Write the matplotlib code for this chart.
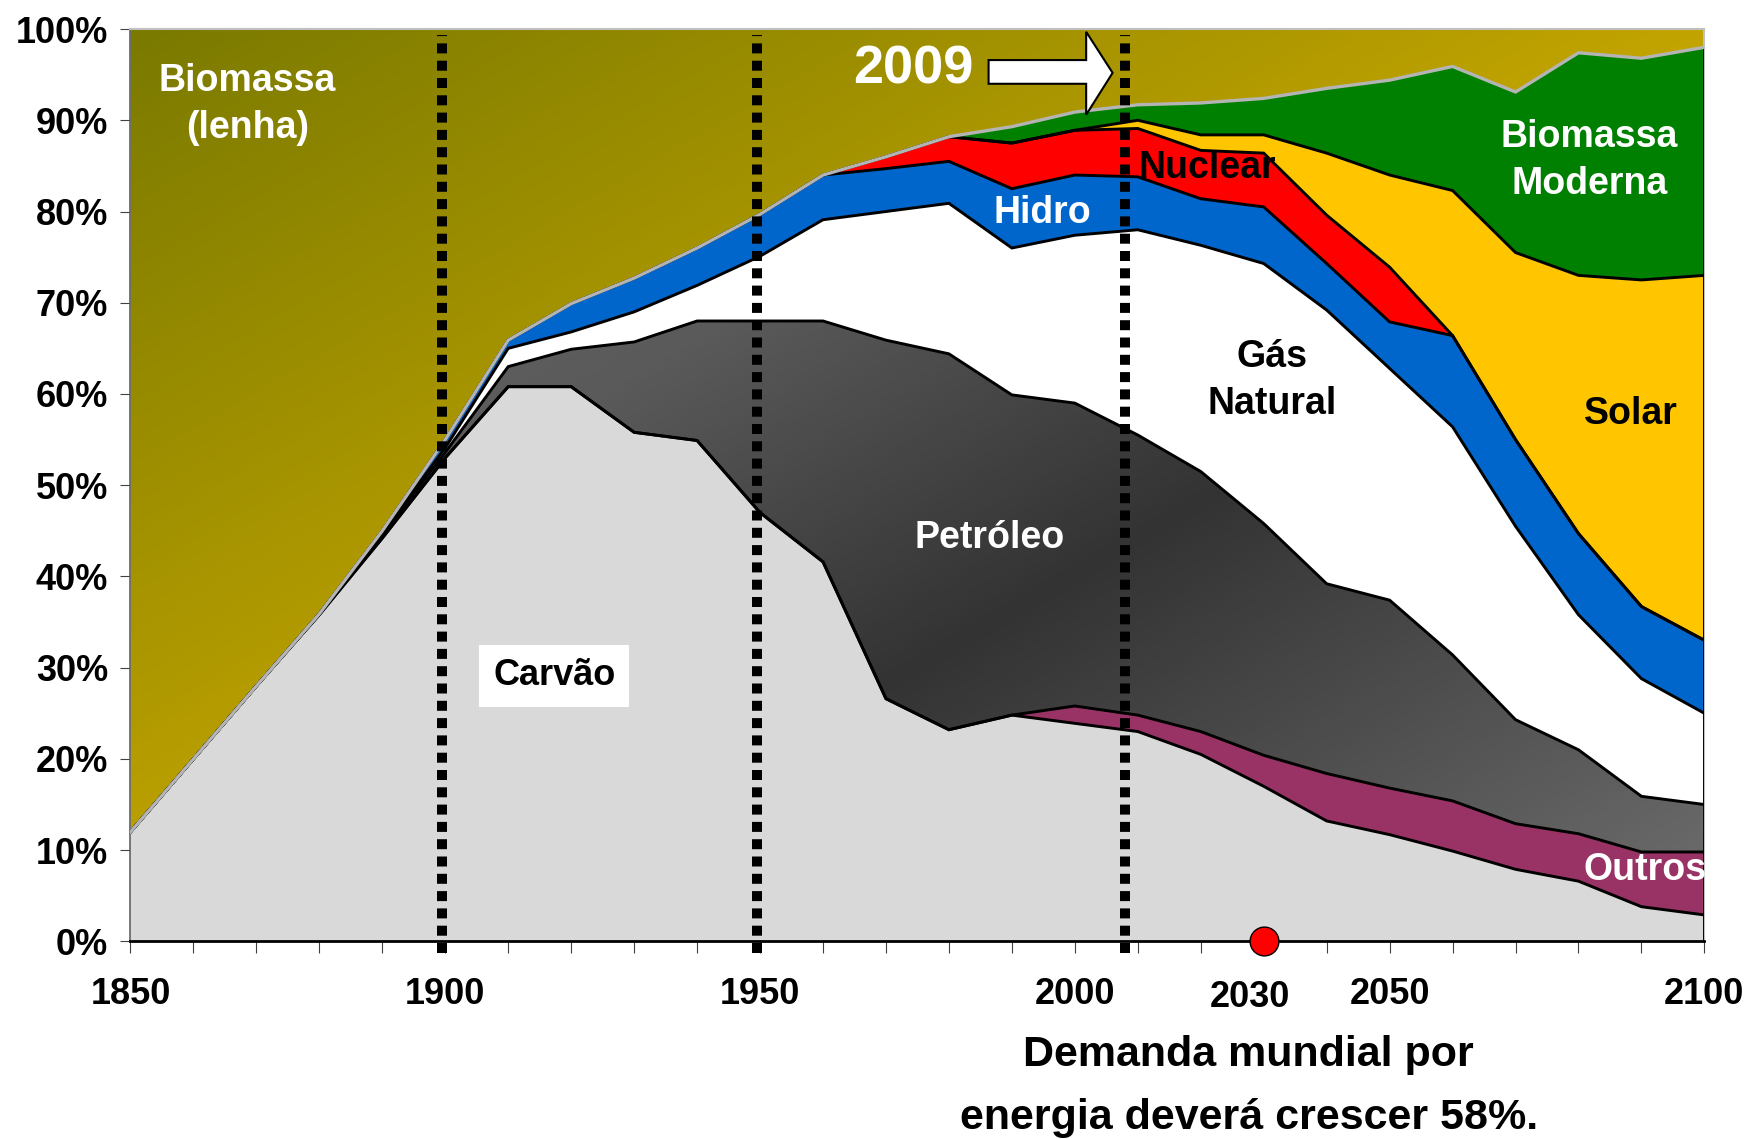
import numpy as np
import matplotlib
matplotlib.use('Agg')
import matplotlib.pyplot as plt
from matplotlib.colors import LinearSegmentedColormap
from matplotlib.patches import Polygon
from matplotlib.transforms import ScaledTranslation

plt.rcParams['font.family'] = ['Liberation Sans', 'DejaVu Sans']
plt.rcParams['font.weight'] = 'bold'

# participacao de cada fonte na matriz energetica mundial (%), de 10 em 10 anos
anos = [1850, 1860, 1870, 1880, 1890, 1900, 1910, 1920, 1930, 1940, 1950, 1960, 1970,
        1980, 1990, 2000, 2010, 2020, 2030, 2040, 2050, 2060, 2070, 2080, 2090, 2100]

carvao = [12.0, 20.0, 28.0, 35.8, 44.2, 53.0, 60.8, 60.8, 55.8, 54.9, 47.0, 41.6, 26.6,
          23.2, 24.8, 23.9, 23.0, 20.5, 17.0, 13.2, 11.7, 9.9, 7.9, 6.6, 3.8, 2.9]
outros = [0, 0, 0, 0, 0, 0, 0, 0, 0, 0, 0, 0, 0,
          0, 0, 1.9, 1.8, 2.5, 3.4, 5.2, 5.1, 5.5, 5.0, 5.2, 6.0, 6.9]
petroleo = [0, 0, 0, 0.1, 0.4, 0.6, 2.2, 4.1, 9.9, 13.1, 21.0, 26.4, 39.3,
            41.2, 35.1, 33.2, 30.7, 28.5, 25.4, 20.8, 20.6, 16.0, 11.4, 9.2, 6.1, 5.2]
gas = [0, 0, 0, 0, 0.2, 0.5, 2.0, 1.9, 3.3, 3.9, 7.1, 11.1, 14.1,
       16.5, 16.1, 18.4, 22.5, 24.8, 28.5, 30.0, 25.4, 25.0, 21.2, 14.8, 12.9, 10.0]
hidro = [0, 0, 0, 0, 0.2, 0.9, 0.9, 3.1, 3.7, 4.1, 4.6, 4.9, 4.7,
         4.6, 6.5, 6.6, 5.8, 5.1, 6.2, 5.1, 5.1, 10.0, 9.5, 8.9, 7.9, 8.0]
nuclear = [0, 0, 0, 0, 0, 0, 0, 0, 0, 0, 0, 0, 1.3,
           2.7, 5.0, 4.9, 5.3, 5.3, 5.9, 5.3, 6.0, 0, 0, 0, 0, 0]
solar = [0, 0, 0, 0, 0, 0, 0, 0, 0, 0, 0, 0, 0,
         0, 0, 0, 0.9, 1.7, 2.0, 6.8, 10.1, 15.9, 20.5, 28.3, 35.8, 40.0]
bio_moderna = [0, 0, 0, 0, 0, 0, 0, 0, 0, 0, 0, 0, 0,
               0, 1.8, 2.0, 1.7, 3.5, 4.0, 7.1, 10.4, 13.6, 17.6, 24.4, 24.3, 25.0]

camadas = [carvao, outros, petroleo, gas, hidro, nuclear, solar, bio_moderna]
cores = ['#d9d9d9', '#993366', None, '#ffffff', '#0066cc', '#ff0000', '#ffc600', '#008000']

marcos = [1899.5, 1949.5, 2008]          # linhas pontilhadas
ticks_x = [1850, 1900, 1950, 2000, 2030, 2050, 2100]
ano_ponto = 2030

fig = plt.figure(figsize=(17.49, 11.39), dpi=100)
ax = fig.add_axes([0.0746, 0.1735, 0.8999, 0.8010])

x = np.array(anos)
topo = np.cumsum(np.array(camadas, dtype=float), axis=0)
base = np.vstack([np.zeros(len(anos)), topo[:-1]])
total = topo[-1]

gx, gy = np.meshgrid(np.linspace(0, 1, 400), np.linspace(0, 1, 400))
diag = (gx + 1 - gy) / 2


def gradiente(y0, y1, lista_cores, z):
    area = ax.fill_between(x, y0, y1, facecolor='none', edgecolor='none', zorder=z)
    cmap = LinearSegmentedColormap.from_list('g', lista_cores)
    img = ax.imshow(diag, extent=[1850, 2100, 0, 100], origin='lower', cmap=cmap,
                    vmin=0, vmax=1, aspect='auto', zorder=z, interpolation='bilinear')
    img.set_clip_path(area.get_paths()[0], transform=ax.transData)


for i in range(len(camadas)):
    if cores[i] is None:
        gradiente(base[i], topo[i], [(0, '#707070'), (0.35, '#5a5a5a'),
                                     (0.6, '#333333'), (1.0, '#707070')], 1)
    else:
        ax.fill_between(x, base[i], topo[i], facecolor=cores[i], edgecolor='none', zorder=1)

# biomassa tradicional (lenha) = resto ate 100%
gradiente(total, np.full(len(anos), 100.0), [(0, '#7a7a00'), (0.5, '#c2a400'), (1, '#e2c400')], 1)

for i in range(len(camadas) - 1):
    ax.plot(x, topo[i], color='black', lw=2.1, zorder=3, solid_joinstyle='miter')
ax.plot(x, total, color='#b4b4b4', lw=2.4, zorder=3.5)
ax.plot([2100, 2100], [0, total[-1]], color='black', lw=2.1, zorder=3)

for m in marcos:
    ax.plot([m, m], [-1.3, 99.4], color='black', lw=7.2, dashes=(1.0, 0.73),
            zorder=4, clip_on=False)

ax.scatter([ano_ponto], [0], s=430, color='#ff0000', edgecolor='black', linewidth=1,
           zorder=6, clip_on=False)

# seta 2009
seta = [(1986.3, 94.0), (2001.8, 94.0), (2001.8, 90.6), (2006.0, 95.2),
        (2001.8, 99.7), (2001.8, 96.6), (1986.3, 96.6)]
ax.add_patch(Polygon(seta, closed=True, facecolor='white', edgecolor='black', lw=1.5,
                     zorder=5, clip_on=False))
ax.text(1974.4, 95.6, '2009', color='white', fontsize=39, ha='center', va='center', zorder=5)

rot = dict(fontsize=27, ha='center', va='center', zorder=5, linespacing=1.4)
ax.text(1868.6, 91.7, 'Biomassa\n(lenha)', color='white', **rot)
ax.text(1994.9, 79.8, 'Hidro', color='white', **rot)
ax.text(2021.0, 84.8, 'Nuclear', color='black', **rot)
ax.text(2081.7, 85.6, 'Biomassa\nModerna', color='white', **rot)
ax.text(2031.3, 61.5, 'Gás\nNatural', color='black', **rot)
ax.text(2088.3, 57.8, 'Solar', color='black', **rot)
ax.text(1986.4, 44.2, 'Petróleo', color='white', **rot)
ax.text(2090.6, 7.8, 'Outros', color='white', **rot)
ax.text(1917.3, 29.1, 'Carvão', color='black',
        bbox=dict(boxstyle='square,pad=0.38', facecolor='white', edgecolor='none'),
        fontsize=26, ha='center', va='center', zorder=5)

ax.set_xlim(1850, 2100)
ax.set_ylim(0, 100)
ax.set_xticks(ticks_x)
ax.set_xticklabels([str(t) for t in ticks_x])
ax.set_xticks(anos, minor=True)
ax.set_yticks(range(0, 101, 10))
ax.set_yticklabels([f'{v}%' for v in range(0, 101, 10)])
ax.tick_params(axis='x', which='both', direction='out', length=8.6, width=0.8,
               color='#404040', labelsize=26, pad=17)
ax.tick_params(axis='y', direction='out', length=7, width=0.8, color='#404040',
               labelsize=26, pad=9)
for lab in ax.get_xticklabels() + ax.get_yticklabels():
    lab.set_fontweight('bold')

# rotulo 2030 um pouco deslocado, como no original
lab2030 = ax.get_xticklabels()[ticks_x.index(2030)]
lab2030.set_transform(lab2030.get_transform() +
                      ScaledTranslation(-0.14, -0.03, fig.dpi_scale_trans))

ax.spines['top'].set_color('#c0c0c0')
ax.spines['right'].set_color('#c0c0c0')
ax.spines['top'].set_linewidth(1.5)
ax.spines['right'].set_linewidth(1.5)
ax.spines['left'].set_color('#606060')
ax.spines['left'].set_linewidth(1.2)
ax.spines['bottom'].set_color('black')
ax.spines['bottom'].set_linewidth(2.0)
ax.spines['bottom'].set_zorder(5)

fig.text(0.714, 0.0737, 'Demanda mundial por', fontsize=31, ha='center', va='center')
fig.text(0.714, 0.0184, 'energia deverá crescer 58%.', fontsize=31, ha='center', va='center')

fig.savefig('out.png', dpi=100, facecolor='white')
